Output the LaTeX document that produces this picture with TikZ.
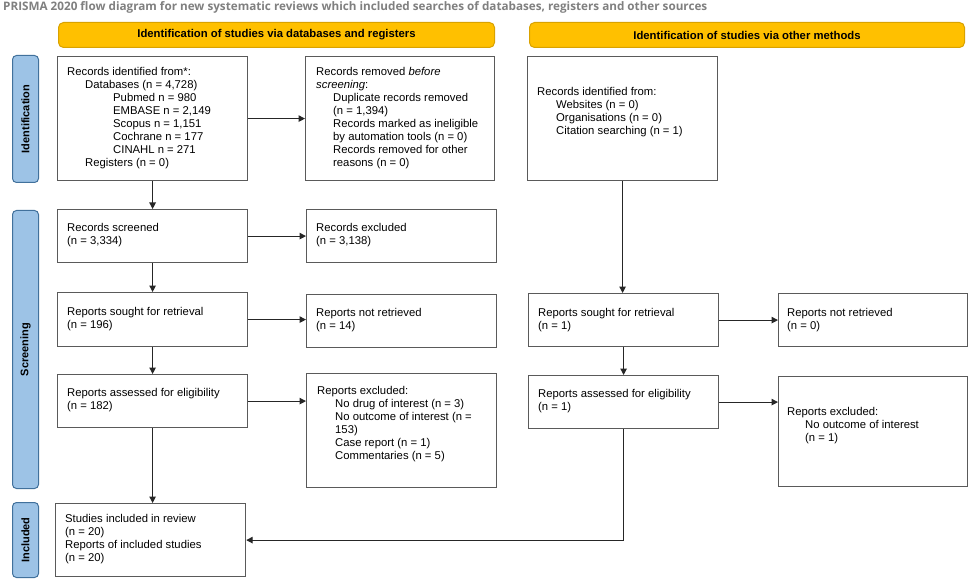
\documentclass[tikz,border=0pt]{standalone}
\usepackage{fontspec}
\setmainfont{Liberation Sans}
\newfontfamily\titlefont{Open Sans}
\usetikzlibrary{arrows.meta}
\definecolor{hdr}{HTML}{FFC000}
\definecolor{hdrline}{HTML}{D9A200}
\definecolor{side}{HTML}{9DC3E6}
\definecolor{sideline}{HTML}{41719C}
\definecolor{boxline}{HTML}{5A5A5A}
\definecolor{ttl}{HTML}{808080}
\begin{document}
\begin{tikzpicture}[x=1pt,y=-1pt,
  box/.style={draw=boxline, line width=1.2pt, fill=white, inner sep=0pt, anchor=north west},
  txt/.style={anchor=north west, inner sep=0pt, align=left, font=\fontsize{11.3}{13}\selectfont},
  hdrbox/.style={draw=hdrline, line width=1pt, fill=hdr, rounded corners=5pt, inner sep=0pt, anchor=north west, font=\bfseries\fontsize{11.3}{13}\selectfont},
  sidebox/.style={draw=sideline, line width=1pt, fill=side, rounded corners=4pt, inner sep=0pt, anchor=north west},
  sidetxt/.style={rotate=90, inner sep=0pt, font=\bfseries\fontsize{11}{13}\selectfont},
  arr/.style={line width=1.1pt, draw=black!85, -{Triangle[length=6.5pt,width=6.5pt]}},
  line/.style={line width=1.1pt, draw=black!85}]
\fill[white] (0,0) rectangle (969,580);
\useasboundingbox (0,0) rectangle (969,580);

% title
\node[anchor=west, inner sep=0pt, text=ttl, font=\titlefont\bfseries\fontsize{11.7}{13}\selectfont] (title) at (3,7.5)
  {PRISMA 2020 flow diagram for new systematic reviews which included searches of databases, registers and other sources};

% headers
\node[hdrbox, minimum width=436pt, minimum height=25pt] (h1) at (58,22) {Identification of studies via databases and registers};
\node[hdrbox, minimum width=435pt, minimum height=25pt] (h2) at (529,22) {Identification of studies via other methods};

% side labels
\node[sidebox, minimum width=26pt, minimum height=127pt] (sid) at (12,55) {};
\node[sidetxt] (sidt) at (sid.center) {Identification};
\node[sidebox, minimum width=26pt, minimum height=278pt] (sscr) at (12,210) {};
\node[sidetxt] (sscrt) at (sscr.center) {Screening};
\node[sidebox, minimum width=26pt, minimum height=75pt] (sinc) at (12,502) {};
\node[sidetxt] (sinct) at (sinc.center) {Included};

% left column
\node[box, minimum width=190pt, minimum height=124pt] (A) at (57,56) {};
\node[txt] (At) at (67,67.5) {Records identified from*:\\
\hspace*{18pt}Databases (n = 4,728)\\
\hspace*{46pt}Pubmed n = 980\\
\hspace*{46pt}EMBASE n = 2,149\\
\hspace*{46pt}Scopus n = 1,151\\
\hspace*{46pt}Cochrane n = 177\\
\hspace*{46pt}CINAHL n = 271\\
\hspace*{18pt}Registers (n = 0)};

\node[box, minimum width=189pt, minimum height=124pt] (B) at (305,56) {};
\node[txt] (Bt) at (316,67.5) {Records removed \textit{before}\\
\textit{screening}:\\
\hspace*{17pt}Duplicate records removed\\
\hspace*{17pt}(n = 1,394)\\
\hspace*{17pt}Records marked as ineligible\\
\hspace*{17pt}by automation tools (n = 0)\\
\hspace*{17pt}Records removed for other\\
\hspace*{17pt}reasons (n = 0)};

\node[box, minimum width=190pt, minimum height=53pt] (S) at (57,209) {};
\node[txt] (St) at (67,223.5) {Records screened\\(n = 3,334)};
\node[box, minimum width=190pt, minimum height=53pt] (E) at (306,209) {};
\node[txt] (Et) at (316,223.5) {Records excluded\\(n = 3,138)};

\node[box, minimum width=190pt, minimum height=54pt] (R) at (57,292) {};
\node[txt] (Rt) at (67,307.5) {Reports sought for retrieval\\(n = 196)};
\node[box, minimum width=190pt, minimum height=53pt] (N) at (306,294) {};
\node[txt] (Nt) at (316,308.5) {Reports not retrieved\\(n = 14)};

\node[box, minimum width=190pt, minimum height=53pt] (EL) at (57,374) {};
\node[txt] (ELt) at (67,388.5) {Reports assessed for eligibility\\(n = 182)};
\node[box, minimum width=190pt, minimum height=114pt] (X) at (306,373) {};
\node[txt] (Xt) at (317,386.5) {Reports excluded:\\
\hspace*{18pt}No drug of interest (n = 3)\\
\hspace*{18pt}No outcome of interest (n =\\
\hspace*{18pt}153)\\
\hspace*{18pt}Case report (n = 1)\\
\hspace*{18pt}Commentaries (n = 5)};

\node[box, minimum width=190pt, minimum height=73pt] (I) at (55,503) {};
\node[txt] (It) at (65,514.5) {Studies included in review\\(n = 20)\\Reports of included studies\\(n = 20)};

% right column
\node[box, minimum width=190pt, minimum height=124pt] (C) at (527,56) {};
\node[txt] (Ct) at (537,87.5) {Records identified from:\\
\hspace*{19pt}Websites (n = 0)\\
\hspace*{19pt}Organisations (n = 0)\\
\hspace*{19pt}Citation searching (n = 1)};

\node[box, minimum width=190pt, minimum height=53pt] (R2) at (528,293) {};
\node[txt] (R2t) at (538,308.5) {Reports sought for retrieval\\(n = 1)};
\node[box, minimum width=189pt, minimum height=53pt] (N2) at (778,293) {};
\node[txt] (N2t) at (787,308.5) {Reports not retrieved\\(n = 0)};

\node[box, minimum width=190pt, minimum height=53pt] (EL2) at (528,375) {};
\node[txt] (EL2t) at (538,389.5) {Reports assessed for eligibility\\(n = 1)};
\node[box, minimum width=189pt, minimum height=110pt] (X2) at (778,376) {};
\node[txt] (X2t) at (787,407.5) {Reports excluded:\\
\hspace*{18pt}No outcome of interest\\
\hspace*{18pt}(n = 1)};

% connectors
\draw[arr] (A.south) -- (S.north);
\draw[arr] (S.south) -- (R.north);
\draw[arr] (R.south) -- (EL.north);
\draw[arr] (EL.south) -- (EL.south |- I.north);
\draw[arr] (A.east) -- (B.west);
\draw[arr] (S.east) -- (E.west);
\draw[arr] (R.east) -- (R.east -| N.west);
\draw[arr] (EL.east) -- (EL.east -| X.west);
\draw[arr] (C.south) -- (C.south |- R2.north);
\draw[arr] (R2.south) -- (R2.south |- EL2.north);
\draw[arr] (R2.east) -- (N2.west);
\draw[arr] (EL2.east) -- (EL2.east -| X2.west);
\draw[arr] (EL2.south) |- (I.east);
\end{tikzpicture}
\end{document}
